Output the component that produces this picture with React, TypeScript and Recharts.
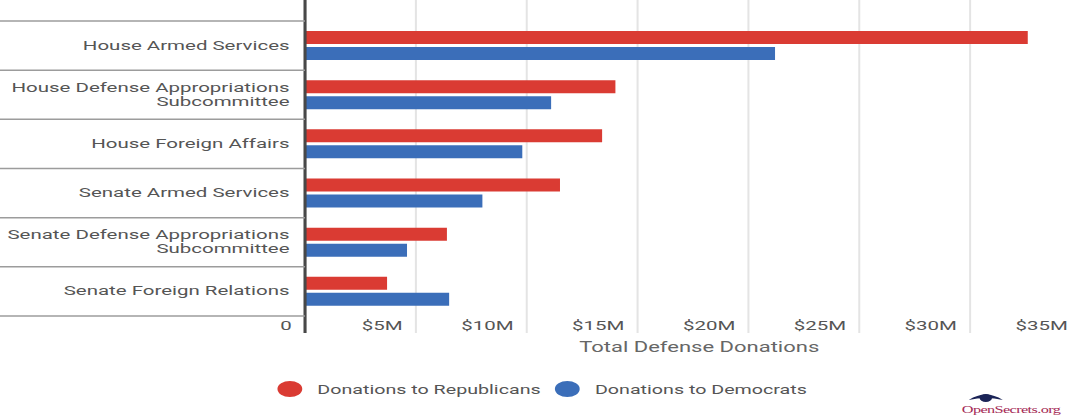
import React from 'react';
import { BarChart, Bar, XAxis, YAxis, CartesianGrid } from 'recharts';

const committees = [
  'House Armed Services',
  'House Defense Appropriations\nSubcommittee',
  'House Foreign Affairs',
  'Senate Armed Services',
  'Senate Defense Appropriations\nSubcommittee',
  'Senate Foreign Relations',
];
// $ millions
const republicans = [32.6, 14.0, 13.4, 11.5, 6.4, 3.7];
const democrats = [21.2, 11.1, 9.8, 8.0, 4.6, 6.5];
const xTicks = [0, 5, 10, 15, 20, 25, 30, 35];

const seriesNames = ['Donations to Republicans', 'Donations to Democrats'];
const seriesColors = ['#DA3B33', '#3B6EB9'];

const data = committees.map((name, i) => ({
  name,
  rep: republicans[i],
  dem: democrats[i],
}));

// the reference is stretched horizontally, so draw narrow and scale x
const K = 1.55;
const W = 720;
const H = 417;
const Y_W = 196.8;
const TEXT = '#555';

function CommitteeTick(props: any) {
  const { x, y, payload, index, visibleTicksCount } = props;
  const half = payload && payload.offset ? payload.offset : 24.6;
  const lines = String(payload.value).split('\n');
  const first = -((lines.length - 1) * 14) / 2 + 4;
  return (
    <g>
      <line x1={x - Y_W} x2={x} y1={y - half} y2={y - half} stroke="#9c9c9c" strokeWidth={1.5} />
      {index === visibleTicksCount - 1 && (
        <line x1={x - Y_W} x2={x} y1={y + half} y2={y + half} stroke="#9c9c9c" strokeWidth={1.5} />
      )}
      <text x={x - 10} y={y} textAnchor="end" fill={TEXT} fontSize={13.2}>
        {lines.map((l, i) => (
          <tspan key={i} x={x - 10} dy={i === 0 ? first : 14}>
            {l}
          </tspan>
        ))}
      </text>
    </g>
  );
}

function MoneyTick(props: any) {
  const { x, y, payload } = props;
  const v = payload.value;
  return (
    <text x={x - 8.5} y={y - 3} textAnchor="end" fill={TEXT} fontSize={13.2}>
      {v === 0 ? '0' : `$${v}M`}
    </text>
  );
}

export default function App() {
  return (
    <div
      style={{
        position: 'absolute',
        left: 0,
        top: 0,
        width: 1068,
        height: H,
        overflow: 'hidden',
        background: '#fff',
        fontFamily: 'Roboto, sans-serif',
      }}
    >
      <div style={{ position: 'relative', width: W, height: H, transform: `scaleX(${K})`, transformOrigin: '0 0' }}>
        <BarChart
          width={W}
          height={H}
          data={data}
          layout="vertical"
          margin={{ top: 0, right: W - 697.4, bottom: 62, left: 0 }}
          barSize={13}
          barGap={3}
        >
          <CartesianGrid horizontal={false} stroke="#e4e4e4" strokeWidth={1.3} />
          <XAxis
            type="number"
            domain={[0, 35]}
            ticks={xTicks}
            axisLine={false}
            tickLine={false}
            tickSize={0}
            tickMargin={0}
            height={22}
            tick={<MoneyTick />}
            label={{ value: 'Total Defense Donations', position: 'insideBottom', offset: 3, dx: 4, fill: '#666', fontSize: 14.2 }}
          />
          <YAxis
            type="category"
            dataKey="name"
            width={Y_W}
            padding={{ top: 21, bottom: 17 }}
            axisLine={{ stroke: '#484848', strokeWidth: 2 }}
            tickLine={false}
            tickSize={0}
            tickMargin={0}
            interval={0}
            tick={<CommitteeTick />}
          />
          <Bar dataKey="rep" name={seriesNames[0]} fill={seriesColors[0]} isAnimationActive={false} />
          <Bar dataKey="dem" name={seriesNames[1]} fill={seriesColors[1]} isAnimationActive={false} />
        </BarChart>

        <div
          style={{
            position: 'absolute',
            left: 178.7,
            top: 381,
            display: 'flex',
            alignItems: 'center',
            fontSize: 12.7,
            color: TEXT,
            whiteSpace: 'nowrap',
          }}
        >
          {seriesNames.map((n, i) => (
            <div key={n} style={{ display: 'flex', alignItems: 'center', marginRight: 9 }}>
              <span
                style={{
                  display: 'inline-block',
                  width: 16,
                  height: 16,
                  borderRadius: '50%',
                  background: seriesColors[i],
                  marginRight: 10,
                }}
              />
              <span>{n}</span>
            </div>
          ))}
        </div>

        <div style={{ position: 'absolute', left: 620.5, top: 391 }}>
          <svg width={22} height={13} style={{ display: 'block', marginLeft: 4.5 }}>
            <path d="M0,9 Q11,-2 22,9 Q11,5 0,9 Z" fill="#1b2457" />
            <circle cx={11} cy={7} r={4} fill="#1b2457" />
          </svg>
          <div
            style={{
              fontFamily: '"Liberation Serif", serif',
              fontSize: 10.5,
              lineHeight: '11px',
              color: '#a52a55',
              letterSpacing: -0.4,
              whiteSpace: 'nowrap',
            }}
          >
            OpenSecrets.org
          </div>
        </div>
      </div>
    </div>
  );
}
